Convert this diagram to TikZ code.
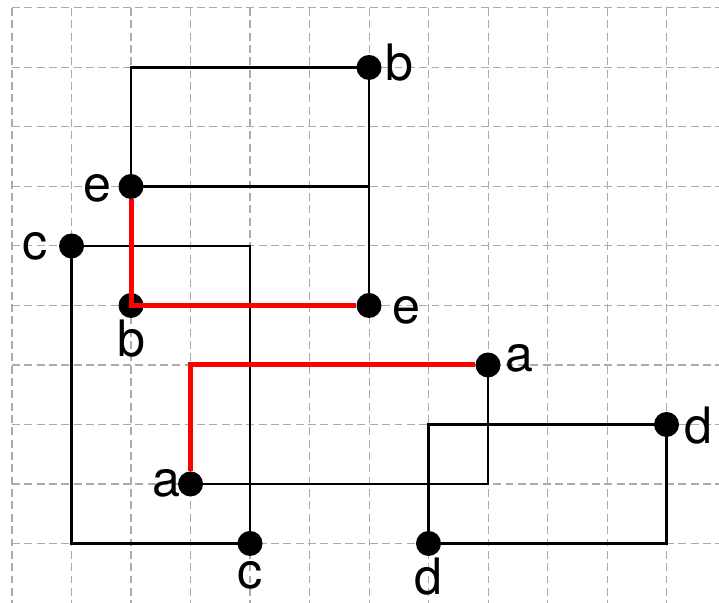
\documentclass[tikz,border=0pt]{standalone}
\usepackage{fontspec}
\setmainfont{TeX Gyre Heros}
\usetikzlibrary{calc}
\begin{document}
\begin{tikzpicture}[x=1cm,y=1cm,
  gridline/.style={draw=black!33, line width=0.5pt, dash pattern=on 3.8pt off 2.1pt},
  wire/.style={draw=black, line width=1pt},
  redwire/.style={draw=red, line width=2.4pt},
  dot/.style={circle, fill=black, inner sep=0pt, minimum size=0.42cm},
  lab/.style={inner sep=0pt, font=\fontsize{24}{28}\selectfont}]
\useasboundingbox (-0.202,0.134) rectangle (11.882,-9.984);
% grid
\foreach \i in {0,...,11} \draw[gridline] (\i,0) -- (\i,-10.1);
\foreach \j in {0,...,9} \draw[gridline] (0,-\j) -- (12,-\j);
% points
\coordinate (pbT) at (6,-1);
\coordinate (peU) at (2,-3);
\coordinate (pcL) at (1,-4);
\coordinate (pbL) at (2,-5);
\coordinate (peL) at (6,-5);
\coordinate (paR) at (8,-6);
\coordinate (pdR) at (11,-7);
\coordinate (paL) at (3,-8);
\coordinate (pcB) at (4,-9);
\coordinate (pdB) at (7,-9);
% black wires
\draw[wire] (peU) |- (pbT);
\draw[wire] (pbT) -- (peL);
\draw[wire] (peU) -- (peU -| pbT);
\draw[wire] (pcL) -| (pcB);
\draw[wire] (pcL) |- (pcB);
\draw[wire] (paR) |- (paL);
\draw[wire] (pdR) -| (pdB);
\draw[wire] (pdB) -| (pdR);
% dots
\node[dot] (bT) at (pbT) {};
\node[dot] (eU) at (peU) {};
\node[dot] (cL) at (pcL) {};
\node[dot] (bL) at (pbL) {};
\node[dot] (eL) at (peL) {};
\node[dot] (aR) at (paR) {};
\node[dot] (dR) at (pdR) {};
\node[dot] (aL) at (paL) {};
\node[dot] (cB) at (pcB) {};
\node[dot] (dB) at (pdB) {};
% red wires
\draw[redwire] (eU) -- (bL.center) -- (eL);
\draw[redwire] (aL) |- (aR);
% labels
\node[lab] (lbT) at ($(pbT)+(0.505,0.084)$) {b};
\node[lab] (leU) at ($(peU)+(-0.572,-0.034)$) {e};
\node[lab] (lcL) at ($(pcL)+(-0.606,0)$) {c};
\node[lab] (lbL) at ($(pbL)+(0,-0.556)$) {b};
\node[lab] (leL) at ($(peL)+(0.623,-0.084)$) {e};
\node[lab] (laR) at ($(paR)+(0.522,0.118)$) {a};
\node[lab] (ldR) at ($(pdR)+(0.539,-0.017)$) {d};
\node[lab] (laL) at ($(paL)+(-0.404,0.017)$) {a};
\node[lab] (lcB) at ($(pcB)+(0,-0.54)$) {c};
\node[lab] (ldB) at ($(pdB)+(0,-0.555)$) {d};
\end{tikzpicture}
\end{document}
